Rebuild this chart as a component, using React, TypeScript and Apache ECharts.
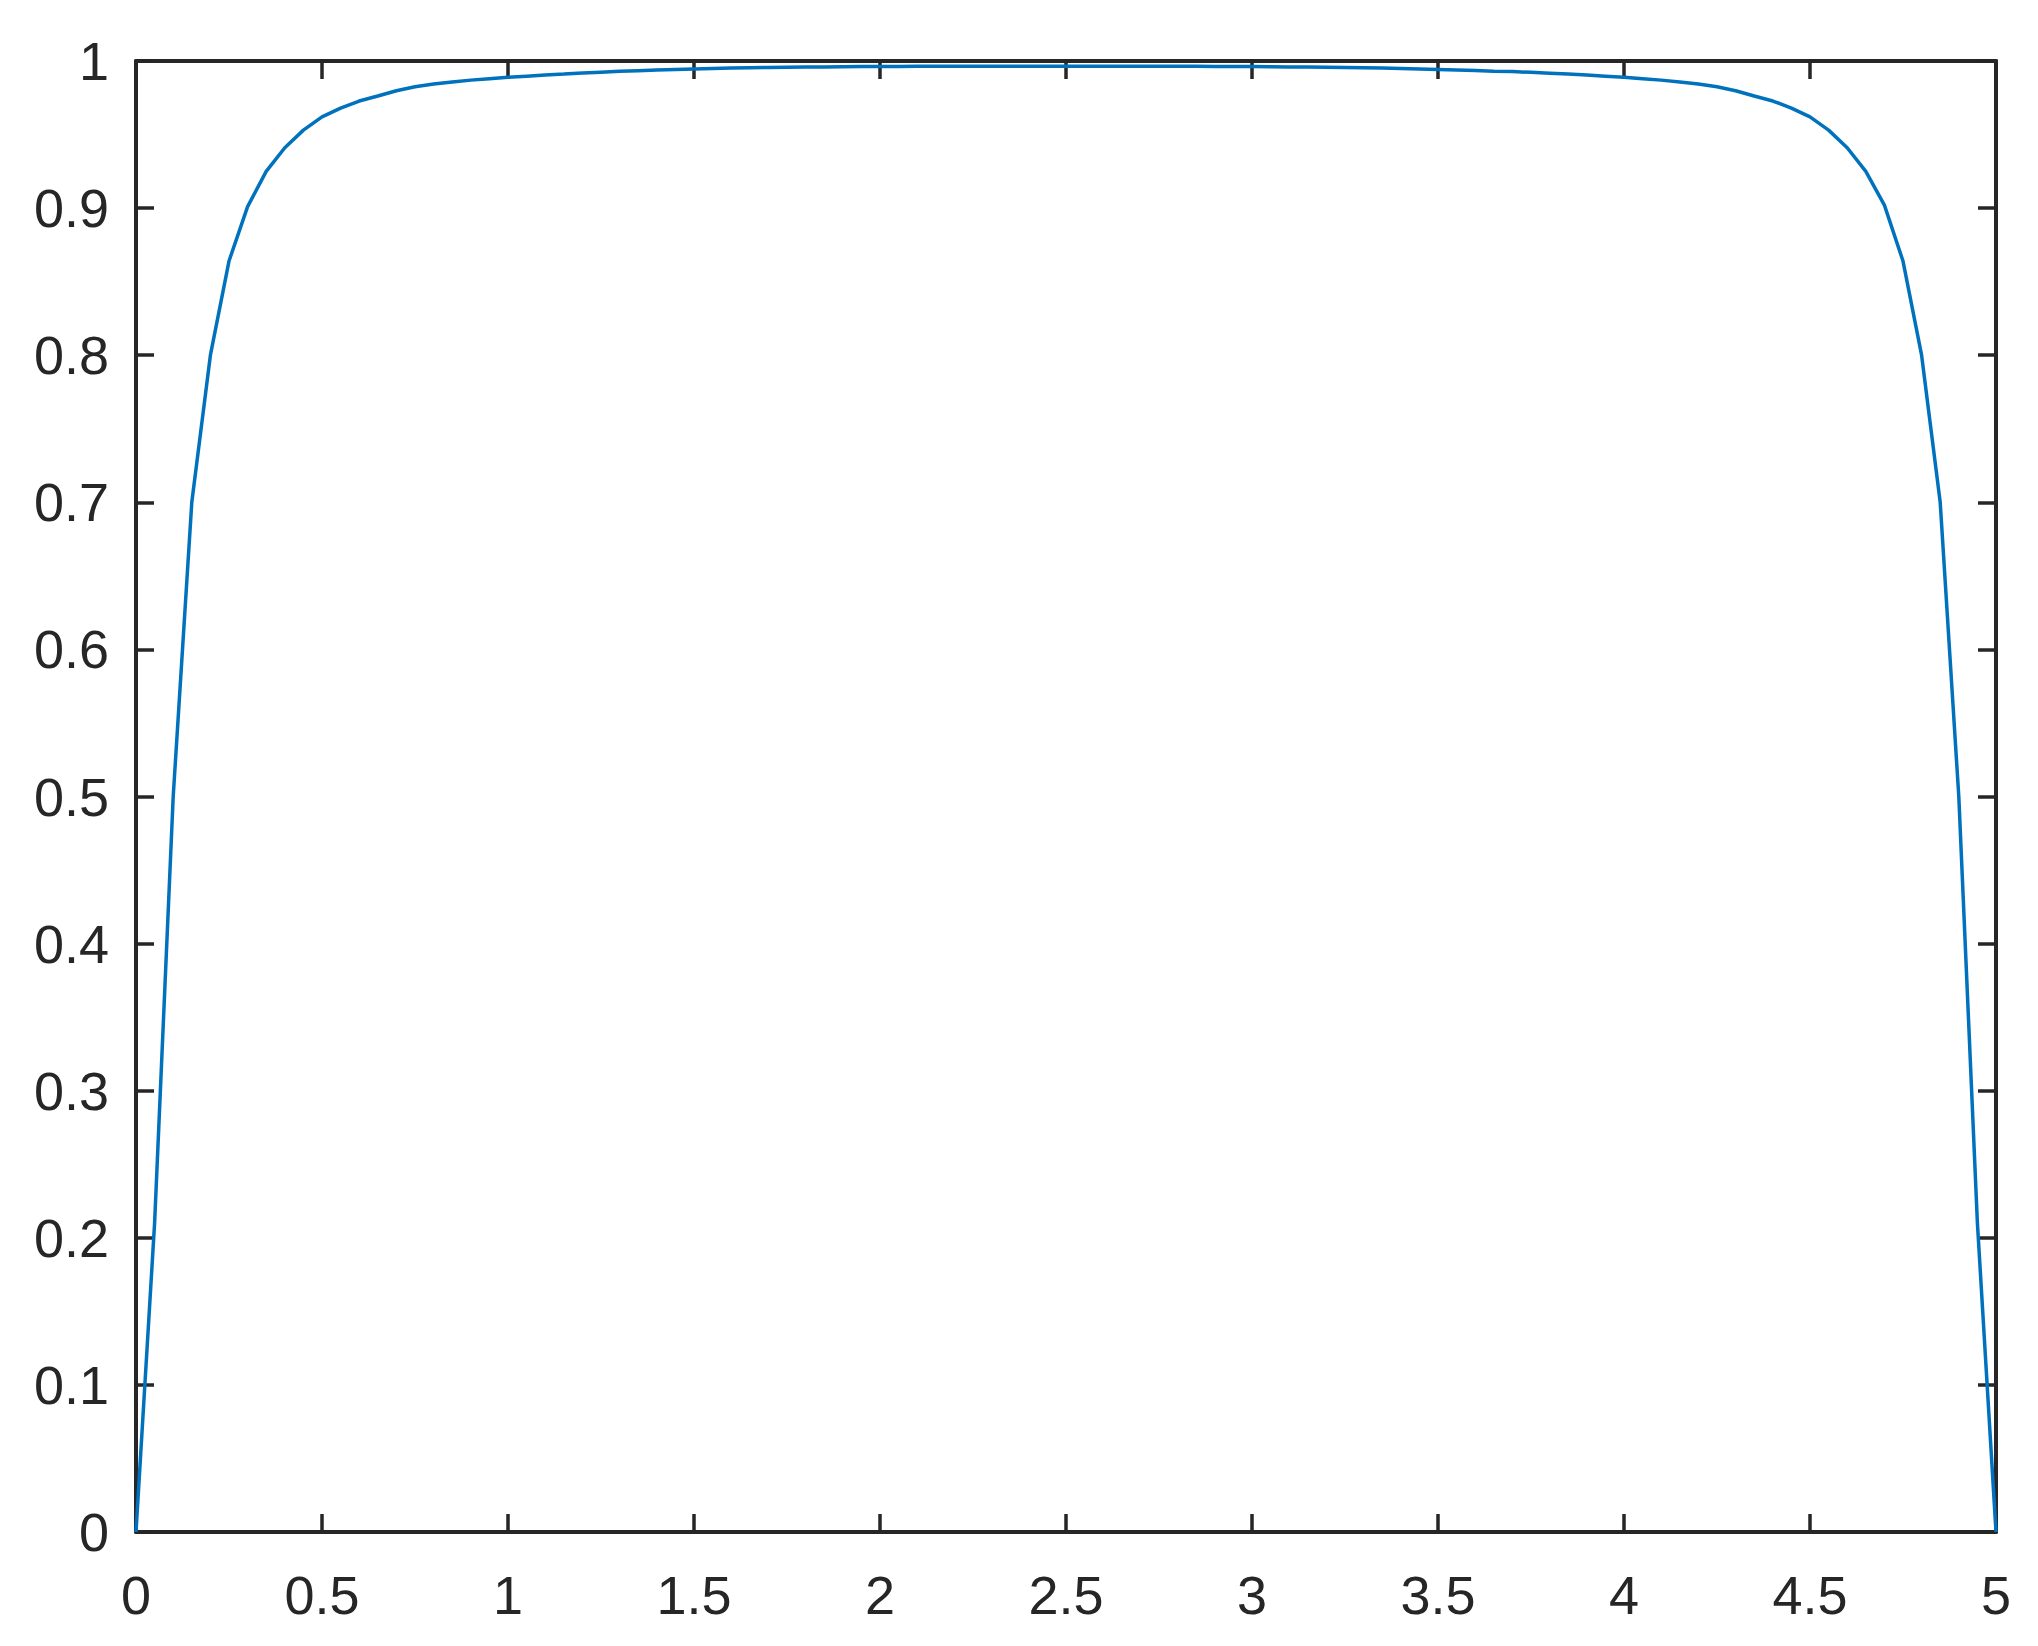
import React, { useEffect, useRef } from "react";
import * as echarts from "echarts";

const xStep = 0.05;
const yValues: number[] = [
  0, 0.21, 0.5, 0.7, 0.8, 0.864, 0.901, 0.925, 0.941, 0.953,
  0.962, 0.968, 0.9728, 0.9762, 0.9798, 0.9825, 0.9843, 0.9858, 0.987, 0.988,
  0.9889, 0.9897, 0.9905, 0.9911, 0.9918, 0.9924, 0.993, 0.9934, 0.9938, 0.9942,
  0.9946, 0.9949, 0.9952, 0.9954, 0.9956, 0.9958, 0.9959, 0.996, 0.9961, 0.9962,
  0.9963, 0.9963, 0.9964, 0.9964, 0.9964, 0.9964, 0.9964, 0.9964, 0.9964, 0.9964,
  0.9964,
  0.9964, 0.9964, 0.9964, 0.9964, 0.9964, 0.9964, 0.9964, 0.9963, 0.9963, 0.9962,
  0.9961, 0.996, 0.9959, 0.9958, 0.9956, 0.9954, 0.9952, 0.9949, 0.9946, 0.9943,
  0.9939, 0.9935, 0.9931, 0.9928, 0.9923, 0.9917, 0.9911, 0.9905, 0.9897, 0.9889,
  0.988, 0.987, 0.9858, 0.9843, 0.9825, 0.9798, 0.9762, 0.9728, 0.968, 0.962,
  0.953, 0.941, 0.925, 0.902, 0.864, 0.8, 0.7, 0.5, 0.21, 0,
];

const xTicks = { min: 0, max: 5, interval: 0.5 };
const yTicks = { min: 0, max: 1, interval: 0.1 };

const AXIS_COLOR = "#262626";
const LINE_COLOR = "#0072BD";
const FONT = "'Liberation Sans', Arial, Helvetica, sans-serif";

export default function App() {
  const ref = useRef<HTMLDivElement>(null);

  useEffect(() => {
    if (!ref.current) return;
    const chart = echarts.init(ref.current, null, { renderer: "svg" });
    const data = yValues.map((y, i) => [+(i * xStep).toFixed(2), y]);

    const axisLine = { show: true, onZero: false, lineStyle: { color: AXIS_COLOR, width: 4 } };
    const axisTick = { show: true, inside: true, length: 18, lineStyle: { color: AXIS_COLOR, width: 3.5 } };
    const label = { color: AXIS_COLOR, fontSize: 54, fontFamily: FONT };

    chart.setOption({
      animation: false,
      backgroundColor: "#ffffff",
      grid: { left: 136, right: 42, top: 61, bottom: 114, containLabel: false },
      xAxis: [
        {
          type: "value", position: "bottom", ...xTicks,
          axisLine, axisTick, splitLine: { show: false },
          axisLabel: { ...label, margin: 36 },
        },
        {
          type: "value", position: "top", ...xTicks,
          axisLine, axisTick, splitLine: { show: false },
          axisLabel: { show: false },
        },
      ],
      yAxis: [
        {
          type: "value", position: "left", ...yTicks,
          axisLine, axisTick, splitLine: { show: false },
          axisLabel: { ...label, margin: 27 },
        },
        {
          type: "value", position: "right", ...yTicks,
          axisLine, axisTick, splitLine: { show: false },
          axisLabel: { show: false },
        },
      ],
      series: [
        {
          type: "line",
          data,
          xAxisIndex: 0,
          yAxisIndex: 0,
          showSymbol: false,
          symbol: "none",
          lineStyle: { color: LINE_COLOR, width: 3.5 },
          clip: false,
        },
      ],
    });

    return () => chart.dispose();
  }, []);

  return (
    <div
      ref={ref}
      style={{ position: "fixed", left: 0, top: 0, width: 2038, height: 1646, background: "#fff" }}
    />
  );
}
